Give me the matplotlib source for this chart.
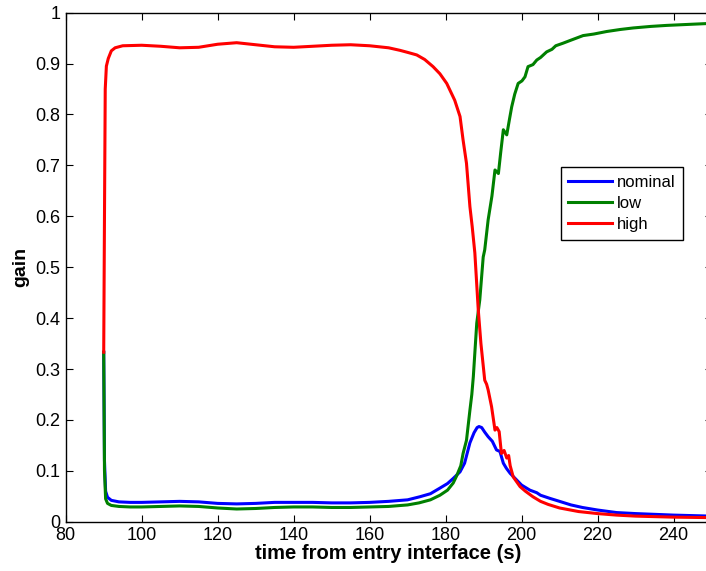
import numpy as np
import matplotlib
matplotlib.use('Agg')
import matplotlib.pyplot as plt

plt.rcParams['font.family'] = ['Liberation Sans', 'DejaVu Sans']

# datos
x_nominal = [90.0, 90.2, 90.5, 91, 92, 94, 97, 100, 105, 110, 115, 120, 125, 130, 135,
             140, 145, 150, 155, 160, 165, 170, 173.2, 176, 178.5, 180.5, 182, 183.8,
             185, 186.4, 187.5, 188.3, 188.8, 189.5, 190.3, 191.2, 192.3, 193.4, 194.3,
             195.2, 196.0, 197.0, 198.7, 200, 202.2, 204, 205, 207.4, 210, 213, 216,
             220, 225, 230, 240, 250]
y_nominal = [0.333, 0.12, 0.06, 0.048, 0.042, 0.039, 0.038, 0.038, 0.039, 0.040, 0.039,
             0.036, 0.035, 0.036, 0.038, 0.038, 0.038, 0.037, 0.037, 0.038, 0.040, 0.043,
             0.049, 0.055, 0.066, 0.075, 0.085, 0.098, 0.115, 0.155, 0.175, 0.185, 0.187,
             0.185, 0.176, 0.167, 0.158, 0.141, 0.138, 0.115, 0.105, 0.095, 0.082, 0.072,
             0.062, 0.057, 0.052, 0.046, 0.040, 0.033, 0.028, 0.023, 0.018, 0.016, 0.013,
             0.011]

x_low = [90.0, 90.2, 90.5, 91, 92, 94, 97, 100, 105, 110, 115, 120, 125, 130, 135, 140,
         145, 150, 155, 160, 165, 170, 173, 176, 178.5, 180.5, 182, 182.9, 184, 184.6,
         185.5, 186.4, 186.9, 187.3, 188.2, 189, 189.9, 190.3, 191.2, 192.2, 193.0, 193.9,
         194.5, 195.2, 196.1, 196.8, 197.4, 198.2, 199.1, 200.1, 200.9, 201.7, 203, 204,
         205, 206.6, 208, 209, 210.9, 213, 216.2, 219, 222.4, 226, 229.4, 234, 238.2, 244,
         250]
y_low = [0.333, 0.10, 0.045, 0.036, 0.032, 0.030, 0.029, 0.029, 0.030, 0.031, 0.030,
         0.027, 0.025, 0.026, 0.028, 0.029, 0.029, 0.028, 0.028, 0.029, 0.030, 0.033,
         0.037, 0.043, 0.052, 0.062, 0.076, 0.09, 0.11, 0.134, 0.16, 0.219, 0.25, 0.285,
         0.39, 0.436, 0.52, 0.534, 0.593, 0.64, 0.691, 0.684, 0.725, 0.77, 0.76, 0.79,
         0.815, 0.84, 0.861, 0.866, 0.874, 0.894, 0.898, 0.907, 0.912, 0.923, 0.928, 0.935,
         0.94, 0.946, 0.955, 0.958, 0.963, 0.967, 0.97, 0.973, 0.975, 0.977, 0.979]

x_high = [90.0, 90.2, 90.4, 90.7, 91.2, 92, 93, 95, 100, 105, 110, 115, 120, 125, 130,
          135, 140, 145, 150, 155, 160, 165, 168, 170, 172.4, 174.5, 176.7, 178.5, 180.3,
          182.4, 183.8, 184.6, 185.5, 186.4, 187.0, 187.7, 188.6, 189.3, 190.3, 190.8,
          191.2, 192.1, 193.0, 193.5, 194.1, 194.7, 195.4, 196.1, 196.6, 197.0, 197.8,
          199.6, 201, 203, 205, 207, 210, 215, 220, 225, 230, 240, 250]
y_high = [0.333, 0.6, 0.85, 0.895, 0.91, 0.925, 0.931, 0.935, 0.936, 0.934, 0.931, 0.932,
          0.938, 0.941, 0.937, 0.933, 0.932, 0.934, 0.936, 0.937, 0.935, 0.931, 0.926,
          0.922, 0.917, 0.908, 0.894, 0.88, 0.861, 0.828, 0.796, 0.75, 0.704, 0.619, 0.58,
          0.528, 0.416, 0.35, 0.278, 0.27, 0.259, 0.226, 0.180, 0.185, 0.177, 0.134, 0.14,
          0.125, 0.13, 0.11, 0.088, 0.069, 0.06, 0.049, 0.04, 0.034, 0.027, 0.02, 0.016,
          0.013, 0.011, 0.009, 0.008]

x_ticks = [80, 100, 120, 140, 160, 180, 200, 220, 240]
y_ticks = [0, 0.1, 0.2, 0.3, 0.4, 0.5, 0.6, 0.7, 0.8, 0.9, 1]
y_ticklabels = ['0', '0.1', '0.2', '0.3', '0.4', '0.5', '0.6', '0.7', '0.8', '0.9', '1']

fig = plt.figure(figsize=(7.06, 5.71), dpi=100)
ax = fig.add_axes([0.0931, 0.0863, 0.9147, 0.8915])

ax.plot(x_nominal, y_nominal, color=(0, 0, 1), lw=2.2, label='nominal')
ax.plot(x_low, y_low, color=(0, 0.5, 0), lw=2.2, label='low')
ax.plot(x_high, y_high, color=(1, 0, 0), lw=2.2, label='high')

ax.set_xlim(80, 250)
ax.set_ylim(0, 1)
ax.set_xticks(x_ticks)
ax.set_xticklabels([str(t) for t in x_ticks])
ax.set_yticks(y_ticks)
ax.set_yticklabels(y_ticklabels)
ax.tick_params(direction='in', top=True, right=True, length=5, width=0.8,
               labelsize=13, pad=4)
for s in ax.spines.values():
    s.set_linewidth(1.0)

ax.set_xlabel('time from entry interface (s)', fontsize=14.5, fontweight='bold', labelpad=0)
ax.set_ylabel('gain', fontsize=14, fontweight='bold', labelpad=4)

leg = ax.legend(loc='upper left', bbox_to_anchor=(0.7946, 0.7075),
                bbox_transform=fig.transFigure, fontsize=12, fancybox=False,
                edgecolor='black', framealpha=1, handlelength=2.6,
                handletextpad=0.3, labelspacing=0.38, borderpad=0.45,
                borderaxespad=0)
leg.get_frame().set_linewidth(1.0)

fig.savefig('out.png', dpi=100)
